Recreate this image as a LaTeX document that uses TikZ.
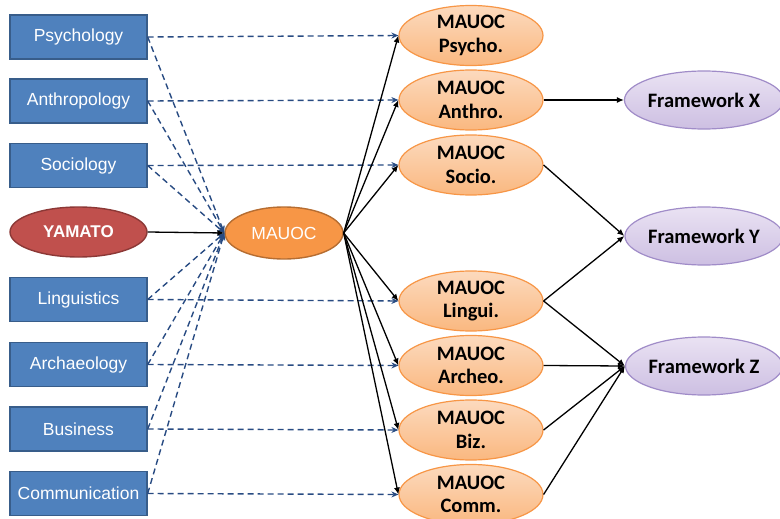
\documentclass[tikz,border=0pt]{standalone}
\usepackage{fontspec}
\setmainfont{Liberation Sans}
\newfontfamily\calfont{Carlito}
\usetikzlibrary{arrows.meta,shapes.geometric}
\definecolor{boxblue}{RGB}{79,129,189}
\definecolor{boxedge}{RGB}{56,93,138}
\definecolor{dashblue}{RGB}{40,75,130}
\definecolor{yamred}{RGB}{192,80,77}
\definecolor{yamedge}{RGB}{140,56,54}
\definecolor{mauorange}{RGB}{247,150,70}
\definecolor{mauedge}{RGB}{182,109,49}
\definecolor{ltorangetop}{RGB}{252,218,190}
\definecolor{ltorangebot}{RGB}{250,184,128}
\definecolor{purptop}{RGB}{234,226,243}
\definecolor{purpbot}{RGB}{205,191,226}
\definecolor{purpedge}{RGB}{160,140,200}
\begin{document}
\begin{tikzpicture}[x=1pt,y=-1pt,
  discbox/.style={rectangle,draw=boxedge,line width=1.4pt,fill=boxblue,text=white,
    minimum width=137pt,minimum height=44pt,inner sep=0pt,font=\fontsize{17.5}{20}\selectfont},
  yamell/.style={ellipse,draw=yamedge,line width=1.4pt,fill=yamred,text=white,
    minimum width=137pt,minimum height=50pt,inner sep=0pt,font=\fontsize{17}{20}\selectfont\bfseries},
  mauell/.style={ellipse,draw=mauedge,line width=1.4pt,fill=mauorange,text=white,
    minimum width=118pt,minimum height=52pt,inner sep=0pt,font=\fontsize{17.5}{20}\selectfont},
  subell/.style={ellipse,draw=mauorange,line width=1.2pt,top color=ltorangetop,bottom color=ltorangebot,
    minimum width=144pt,minimum height=60pt,inner sep=0pt},
  sublbl/.style={align=center,font=\calfont\fontsize{20.5}{23.5}\selectfont\bfseries,inner sep=0pt},
  fwell/.style={ellipse,draw=purpedge,line width=1.2pt,top color=purptop,bottom color=purpbot,
    minimum width=156pt,minimum height=58pt,inner sep=0pt,font=\calfont\fontsize{20.5}{23}\selectfont\bfseries},
  dasharr/.style={draw=dashblue,line width=1.4pt,dash pattern=on 6pt off 4pt,-{Stealth[length=7pt,width=6pt]}},
  solarr/.style={draw=black,line width=1.3pt,-{Latex[length=7pt,width=6pt]}}
]
\useasboundingbox (0,0) rectangle (780,519);

% left column
\node[discbox] (psy) at (78.5,37) {Psychology};
\node[discbox] (ant) at (78.5,101) {Anthropology};
\node[discbox] (soc) at (78.5,165.5) {Sociology};
\node[yamell] (yam) at (78.5,232) {YAMATO};
\node[discbox] (lin) at (78.5,299.5) {Linguistics};
\node[discbox] (arc) at (78.5,364.5) {Archaeology};
\node[discbox] (biz) at (78.5,429) {Business};
\node[discbox] (com) at (78.5,493.5) {Communication};

% central
\node[mauell] (mau) at (284,233) {MAUOC};

% MAUOC sub ellipses
\node[subell,label={[sublbl,name=tpsy]center:MAUOC\\Psycho.}] (epsy) at (471,35.5) {};
\node[subell,label={[sublbl,name=tant]center:MAUOC\\Anthro.}] (eant) at (471,100) {};
\node[subell,label={[sublbl,name=tsoc]center:MAUOC\\Socio.}] (esoc) at (471,165) {};
\node[subell,label={[sublbl,name=tlin]center:MAUOC\\Lingui.}] (elin) at (471,301) {};
\node[subell,label={[sublbl,name=tarc]center:MAUOC\\Archeo.}] (earc) at (471,365.5) {};
\node[subell,label={[sublbl,name=tbiz]center:MAUOC\\Biz.}] (ebiz) at (471,430) {};
\node[subell,label={[sublbl,name=tcom]center:MAUOC\\Comm.}] (ecom) at (471,494.5) {};

% frameworks
\node[fwell] (fx) at (704,100) {Framework X};
\node[fwell] (fy) at (704,236) {Framework Y};
\node[fwell] (fz) at (704,366) {Framework Z};

% dashed to MAUOC
\foreach \n in {psy,ant,soc,lin,arc,biz,com}
  \draw[dasharr] (\n.east) -- (mau.west);
% dashed to sub ellipses
\draw[dasharr] (psy.east) -- (epsy.west);
\draw[dasharr] (ant.east) -- (eant.west);
\draw[dasharr] (soc.east) -- (esoc.west);
\draw[dasharr] (lin.east) -- (elin.west);
\draw[dasharr] (arc.east) -- (earc.west);
\draw[dasharr] (biz.east) -- (ebiz.west);
\draw[dasharr] (com.east) -- (ecom.west);

% YAMATO to MAUOC
\draw[solarr] (yam.east) -- (mau.west);

% MAUOC to sub ellipses
\foreach \n in {epsy,eant,esoc,elin,earc,ebiz,ecom}
  \draw[solarr] (mau.east) -- (\n.west);

% to frameworks
\draw[solarr] (eant.east) -- (fx.west);
\draw[solarr] (esoc.east) -- (fy.west);
\draw[solarr] (elin.east) -- (fy.west);
\draw[solarr] (elin.east) -- (fz.west);
\draw[solarr] (earc.east) -- (fz.west);
\draw[solarr] (ebiz.east) -- (fz.west);
\draw[solarr] (ecom.east) -- (fz.west);
\end{tikzpicture}
\end{document}
